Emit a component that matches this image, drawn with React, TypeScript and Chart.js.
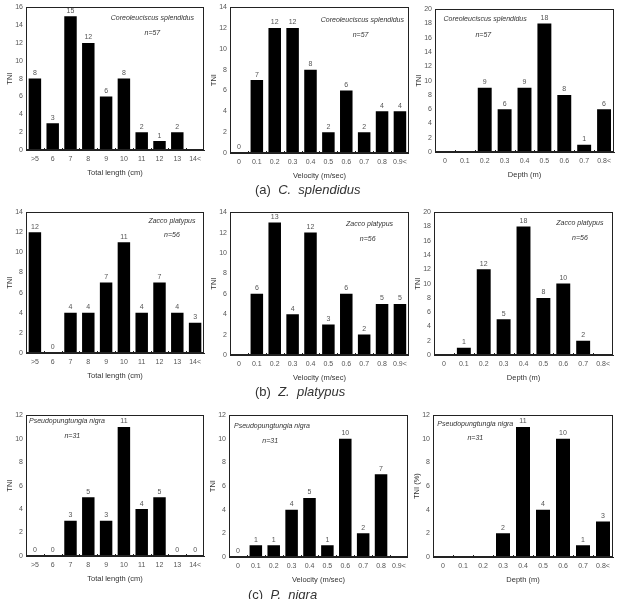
import React, { useEffect, useRef } from "react";
import Chart from "chart.js/auto";

// ---- categories ----
const lengthCats = [">5", "6", "7", "8", "9", "10", "11", "12", "13", "14<"];
const velocityCats = ["0", "0.1", "0.2", "0.3", "0.4", "0.5", "0.6", "0.7", "0.8", "0.9<"];
const depthCats = ["0", "0.1", "0.2", "0.3", "0.4", "0.5", "0.6", "0.7", "0.8<"];

// ---- values (null = no bar, no label) ----
const csLength = [8, 3, 15, 12, 6, 8, 2, 1, 2, null];
const csVelocity = [0, 7, 12, 12, 8, 2, 6, 2, 4, 4];
const csDepth = [null, null, 9, 6, 9, 18, 8, 1, 6];
const zpLength = [12, 0, 4, 4, 7, 11, 4, 7, 4, 3];
const zpVelocity = [null, 6, 13, 4, 12, 3, 6, 2, 5, 5];
const zpDepth = [null, 1, 12, 5, 18, 8, 10, 2, null];
const pnLength = [0, 0, 3, 5, 3, 11, 4, 5, 0, 0];
const pnVelocity = [0, 1, 1, 4, 5, 1, 10, 2, 7, null];
const pnDepth = [null, null, null, 2, 11, 4, 10, 1, 3];

// ---- axis maxima ----
const csYMax = [16, 14, 20];
const zpYMax = [14, 14, 20];
const pnYMax = [12, 12, 12];

// ---- texts ----
const xTitles = ["Total length (cm)", "Velocity (m/sec)", "Depth (m)"];
const species = ["Coreoleuciscus splendidus", "Zacco platypus", "Pseudopungtungia nigra"];
const counts = ["n=57", "n=56", "n=31"];

const FONT = "'Liberation Sans', Arial, sans-serif";

type P = {
  rect: number[];
  cats: string[];
  values: (number | null)[];
  yMax: number;
  xTitle: string;
  yTitle: string;
  sp: string;
  n: string;
  spPos: number[];
  nPos: number[];
};

const panels: P[] = [
  { rect: [26, 5, 204, 150], cats: lengthCats, values: csLength, yMax: csYMax[0], xTitle: xTitles[0], yTitle: "TNI", sp: species[0], n: counts[0], spPos: [0.71, 0.076], nPos: [0.71, 0.18] },
  { rect: [230, 5, 409, 153], cats: velocityCats, values: csVelocity, yMax: csYMax[1], xTitle: xTitles[1], yTitle: "TNI", sp: species[0], n: counts[0], spPos: [0.74, 0.088], nPos: [0.73, 0.19] },
  { rect: [435, 7, 614, 152], cats: depthCats, values: csDepth, yMax: csYMax[2], xTitle: xTitles[2], yTitle: "TNI", sp: species[0], n: counts[0], spPos: [0.28, 0.07], nPos: [0.27, 0.18] },
  { rect: [26, 210, 204, 353], cats: lengthCats, values: zpLength, yMax: zpYMax[0], xTitle: xTitles[0], yTitle: "TNI", sp: species[1], n: counts[1], spPos: [0.82, 0.063], nPos: [0.82, 0.16] },
  { rect: [230, 210, 409, 355], cats: velocityCats, values: zpVelocity, yMax: zpYMax[1], xTitle: xTitles[1], yTitle: "TNI", sp: species[1], n: counts[1], spPos: [0.78, 0.08], nPos: [0.77, 0.19] },
  { rect: [434, 210, 613, 355], cats: depthCats, values: zpDepth, yMax: zpYMax[2], xTitle: xTitles[2], yTitle: "TNI", sp: species[1], n: counts[1], spPos: [0.815, 0.076], nPos: [0.815, 0.18] },
  { rect: [26, 413, 204, 556], cats: lengthCats, values: pnLength, yMax: pnYMax[0], xTitle: xTitles[0], yTitle: "TNI", sp: species[2], n: counts[2], spPos: [0.23, 0.045], nPos: [0.26, 0.15] },
  { rect: [229, 413, 408, 557], cats: velocityCats, values: pnVelocity, yMax: pnYMax[1], xTitle: xTitles[1], yTitle: "TNI", sp: species[2], n: counts[2], spPos: [0.24, 0.076], nPos: [0.23, 0.18] },
  { rect: [433, 413, 613, 557], cats: depthCats, values: pnDepth, yMax: pnYMax[2], xTitle: xTitles[2], yTitle: "TNI (%)", sp: species[2], n: counts[2], spPos: [0.235, 0.06], nPos: [0.235, 0.16] },
];

const Y_W = 26;
const X_H = 28;
const PAD_T = 5;
const PAD_R = 3;

function Panel({ p }: { p: P }) {
  const ref = useRef<HTMLCanvasElement | null>(null);
  const [x0, y0, x1, y1] = p.rect;
  const w = x1 - x0 + Y_W + PAD_R;
  const h = y1 - y0 + PAD_T + X_H;

  useEffect(() => {
    const framePlugin = {
      id: "frame",
      afterDraw(chart: any) {
        const { ctx, chartArea } = chart;
        const xs = chart.scales.x;
        ctx.save();
        ctx.strokeStyle = "#222";
        ctx.lineWidth = 1;
        ctx.strokeRect(
          Math.round(chartArea.left) + 0.5,
          Math.round(chartArea.top) + 0.5,
          Math.round(chartArea.right - chartArea.left) - 1,
          Math.round(chartArea.bottom - chartArea.top) - 1
        );
        // small inward ticks between categories
        ctx.beginPath();
        for (let i = 1; i < p.cats.length; i++) {
          const px = Math.round(xs.getPixelForValue(i - 0.5)) + 0.5;
          ctx.moveTo(px, chartArea.bottom);
          ctx.lineTo(px, chartArea.bottom - 2);
        }
        ctx.stroke();
        ctx.restore();
      },
    };
    const labelPlugin = {
      id: "vals",
      afterDatasetsDraw(chart: any) {
        const { ctx, chartArea } = chart;
        const meta = chart.getDatasetMeta(0);
        ctx.save();
        ctx.fillStyle = "#555";
        ctx.font = `7px ${FONT}`;
        ctx.textAlign = "center";
        ctx.textBaseline = "bottom";
        meta.data.forEach((el: any, i: number) => {
          const v = p.values[i];
          if (v === null || v === undefined) return;
          ctx.fillText(String(v), el.x, el.y - 2);
        });
        // annotations
        const aw = chartArea.right - chartArea.left;
        const ah = chartArea.bottom - chartArea.top;
        ctx.fillStyle = "#333";
        ctx.textBaseline = "middle";
        ctx.font = `italic 7px ${FONT}`;
        ctx.fillText(p.sp, chartArea.left + aw * p.spPos[0], chartArea.top + ah * p.spPos[1]);
        ctx.fillText(p.n, chartArea.left + aw * p.nPos[0], chartArea.top + ah * p.nPos[1]);
        ctx.restore();
      },
    };

    const chart = new Chart(ref.current as HTMLCanvasElement, {
      type: "bar",
      data: {
        labels: p.cats,
        datasets: [
          {
            data: p.values as any,
            backgroundColor: "#000",
            borderWidth: 0,
            barPercentage: 0.7,
            categoryPercentage: 1,
          },
        ],
      },
      options: {
        animation: false,
        responsive: false,
        maintainAspectRatio: false,
        layout: { padding: { top: PAD_T, right: PAD_R, left: 0, bottom: 0 } },
        plugins: {
          legend: { display: false },
          tooltip: { enabled: false },
        },
        scales: {
          x: {
            grid: { display: false, drawTicks: false, tickLength: 0 },
            border: { display: true, color: "#222" },
            ticks: {
              font: { size: 7, family: FONT },
              color: "#555",
              padding: 5,
              maxRotation: 0,
              autoSkip: false,
            },
            title: {
              display: true,
              text: p.xTitle,
              font: { size: 7.5, family: FONT },
              color: "#333",
              padding: { top: 2, bottom: 1 },
            },
            afterFit: (s: any) => {
              s.height = X_H;
            },
          },
          y: {
            min: 0,
            max: p.yMax,
            grid: { display: false, drawTicks: false, tickLength: 0 },
            border: { display: true, color: "#222" },
            ticks: {
              stepSize: 2,
              font: { size: 7, family: FONT },
              color: "#555",
              padding: 3,
            },
            title: {
              display: true,
              text: p.yTitle,
              font: { size: 7.5, family: FONT },
              color: "#333",
              padding: { top: 5, bottom: 0 },
            },
            afterFit: (s: any) => {
              s.width = Y_W;
            },
          },
        },
      },
      plugins: [framePlugin, labelPlugin],
    } as any);
    return () => chart.destroy();
  }, []);

  return (
    <canvas
      ref={ref}
      width={w}
      height={h}
      style={{ position: "absolute", left: x0 - Y_W, top: y0 - PAD_T, width: w, height: h }}
    />
  );
}

const captions = [
  { tag: "(a)", name: "C.  splendidus", left: 255, top: 182 },
  { tag: "(b)", name: "Z.  platypus", left: 255, top: 384 },
  { tag: "(c)", name: "P.  nigra", left: 248, top: 587 },
];

export default function App() {
  return (
    <div style={{ position: "absolute", left: 0, top: 0, width: 618, height: 599, background: "#fff", overflow: "hidden" }}>
      {panels.map((p, i) => (
        <Panel key={i} p={p} />
      ))}
      {captions.map((c, i) => (
        <div
          key={i}
          style={{
            position: "absolute",
            left: c.left,
            top: c.top,
            fontFamily: FONT,
            fontSize: 13,
            color: "#333",
            whiteSpace: "pre",
            lineHeight: "16px",
          }}
        >
          {c.tag + "  "}
          <i>{c.name}</i>
        </div>
      ))}
    </div>
  );
}
